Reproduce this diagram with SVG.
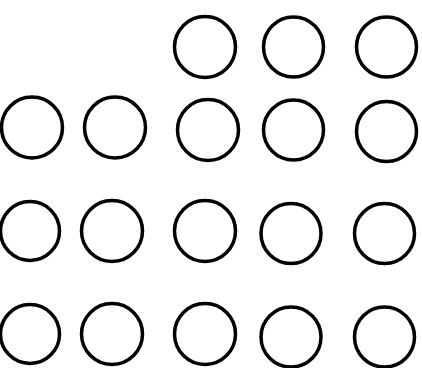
<svg xmlns="http://www.w3.org/2000/svg" width="422" height="368" viewBox="0 0 422 368">
<style>
.c{fill:none;stroke:#000;stroke-width:3.5}
</style>
<rect width="422" height="368" fill="#fff"/>
<g id="r1c3"><circle class="c" cx="205" cy="47" r="30.5"/></g>
<g id="r1c4"><circle class="c" cx="293.5" cy="47" r="30"/></g>
<g id="r1c5"><circle class="c" cx="386.5" cy="47" r="30"/></g>
<g id="r2c1"><circle class="c" cx="32" cy="127.5" r="30.5"/></g>
<g id="r2c2"><circle class="c" cx="115" cy="127.5" r="30.5"/></g>
<g id="r2c3"><circle class="c" cx="208" cy="130" r="30.5"/></g>
<g id="r2c4"><circle class="c" cx="293.5" cy="130" r="30"/></g>
<g id="r2c5"><circle class="c" cx="386.5" cy="131.5" r="30"/></g>
<g id="r3c1"><circle class="c" cx="30" cy="231" r="29.5"/></g>
<g id="r3c2"><circle class="c" cx="112" cy="231" r="30.5"/></g>
<g id="r3c3"><circle class="c" cx="205" cy="231" r="30.5"/></g>
<g id="r3c4"><circle class="c" cx="291" cy="233.5" r="30"/></g>
<g id="r3c5"><circle class="c" cx="384.5" cy="233.5" r="30"/></g>
<g id="r4c1"><circle class="c" cx="30" cy="334" r="29.5"/></g>
<g id="r4c2"><circle class="c" cx="112" cy="334" r="30.5"/></g>
<g id="r4c3"><circle class="c" cx="205" cy="334" r="30.5"/></g>
<g id="r4c4"><circle class="c" cx="291" cy="337" r="30"/></g>
<g id="r4c5"><circle class="c" cx="384.5" cy="337" r="30"/></g>
<g id="connectors"></g>
</svg>
